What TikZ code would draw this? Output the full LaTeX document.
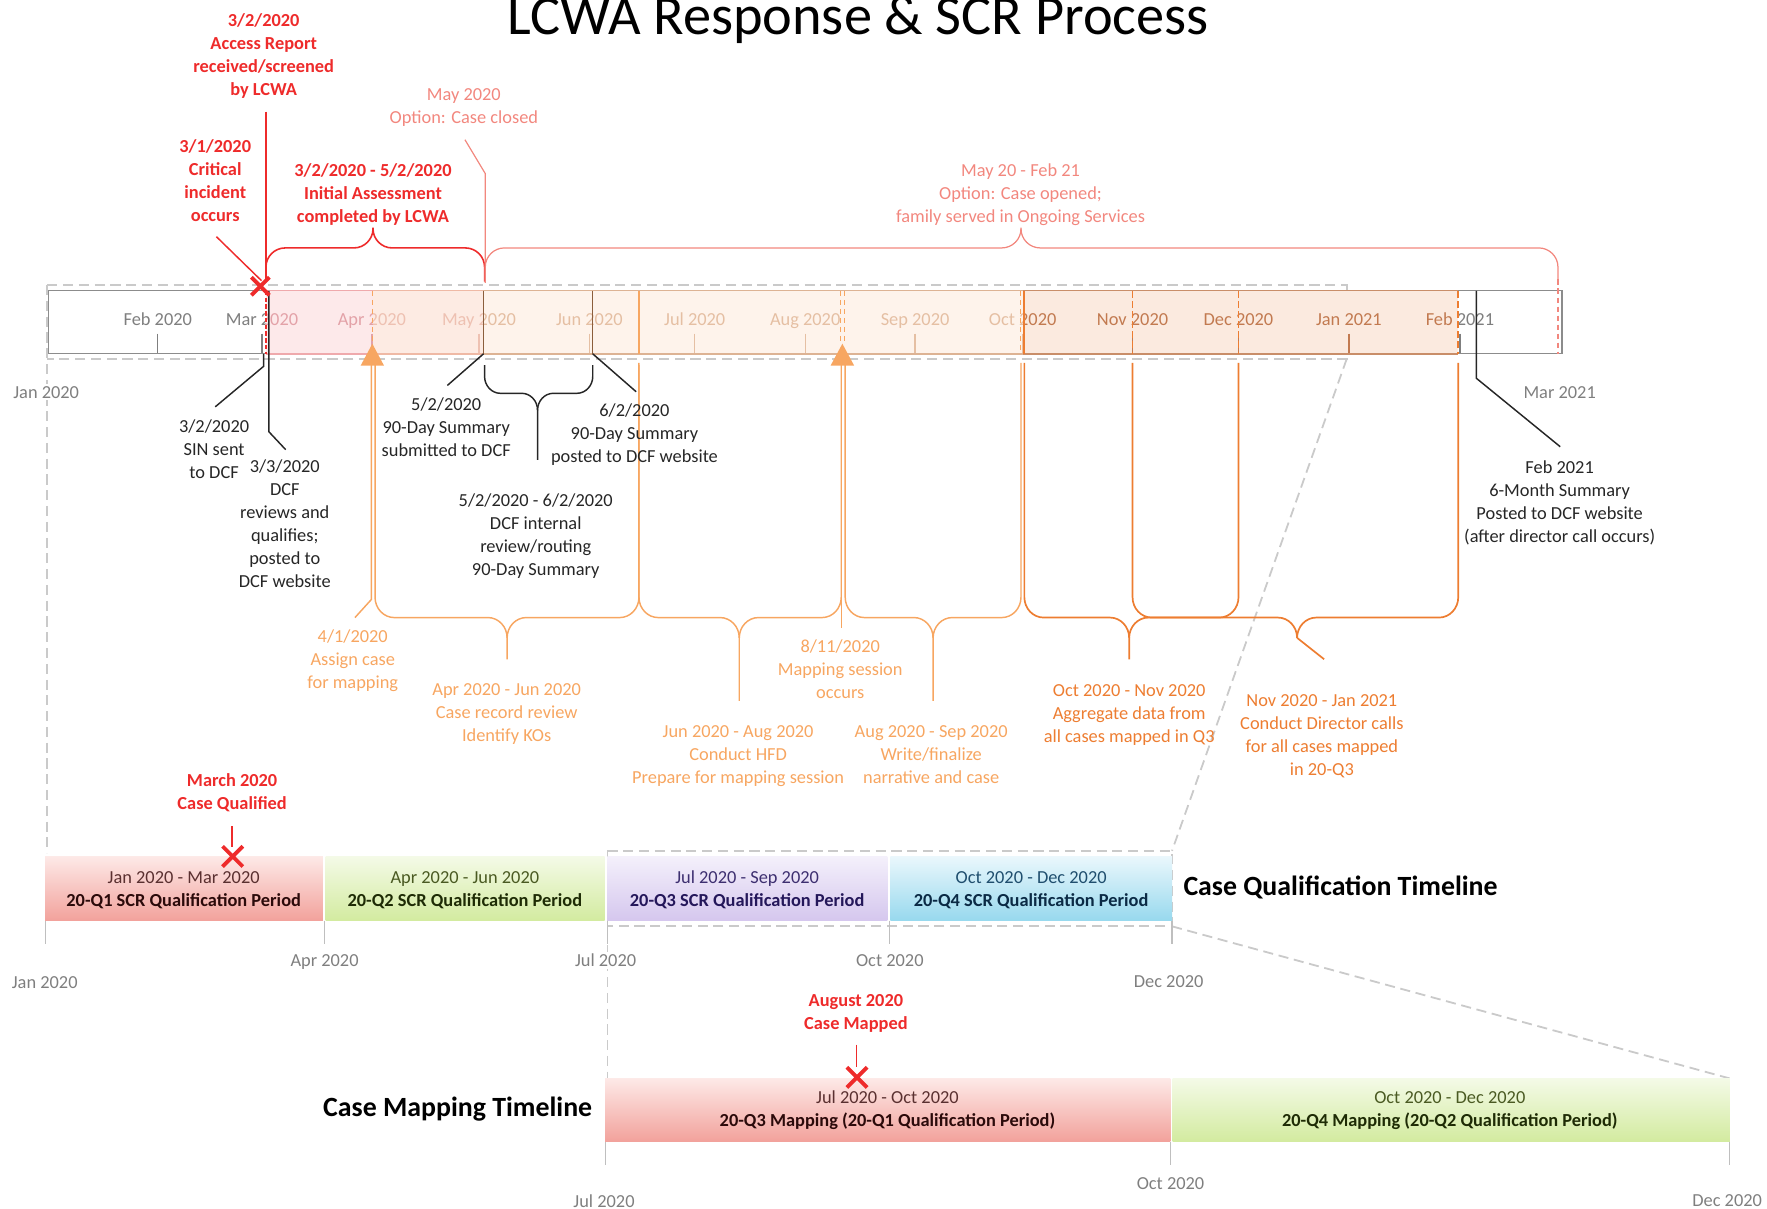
\documentclass[tikz,border=0pt]{standalone}
\usepackage{fontspec}
\setmainfont{Carlito}
% palette
\definecolor{axisgray}{HTML}{7F7F7F}
\definecolor{dashgray}{HTML}{CACACA}
\definecolor{tickgray}{HTML}{BFBFBF}
\definecolor{barline}{HTML}{8C8C8C}
\definecolor{redS}{HTML}{EE2B2B}
\definecolor{redL}{HTML}{F2877E}
\definecolor{orgL}{HTML}{F7A661}
\definecolor{orgD}{HTML}{ED7D31}
\definecolor{ink}{HTML}{262626}
\definecolor{brownln}{HTML}{8B5E3C}
\definecolor{segA}{HTML}{FDE9EA}\definecolor{segAtxt}{HTML}{E3A2A8}\definecolor{segAbd}{HTML}{EFA9AC}
\definecolor{segB}{HTML}{FDEBE3}\definecolor{segBtxt}{HTML}{EEC1B2}\definecolor{segBbd}{HTML}{EFB9A5}
\definecolor{segC}{HTML}{FEF3EB}\definecolor{segCtxt}{HTML}{E5BFA3}\definecolor{segCbd}{HTML}{DDB394}
\definecolor{segD}{HTML}{FBEADF}\definecolor{segDtxt}{HTML}{C27A50}\definecolor{segDbd}{HTML}{C98E69}
% quarter blocks
\definecolor{qRtop}{HTML}{FDE9E7}\definecolor{qRbot}{HTML}{F2A29C}
\definecolor{qGtop}{HTML}{F4FAE7}\definecolor{qGbot}{HTML}{D3EBA0}
\definecolor{qPtop}{HTML}{F4F0FB}\definecolor{qPbot}{HTML}{D5C7EE}
\definecolor{qBtop}{HTML}{EAF7FC}\definecolor{qBbot}{HTML}{98D9EE}
\definecolor{qRdate}{HTML}{5A3030}\definecolor{qRname}{HTML}{2B0A0A}
\definecolor{qGdate}{HTML}{4A5A22}\definecolor{qGname}{HTML}{1E2B05}
\definecolor{qPdate}{HTML}{3D2F70}\definecolor{qPname}{HTML}{24175A}
\definecolor{qBdate}{HTML}{1F4E6E}\definecolor{qBname}{HTML}{0B2A45}

\newcommand{\lblfont}{\fontsize{16.3}{20.4}\selectfont}
\newcommand{\tlheadfont}{\fontsize{24.7}{30}\selectfont\bfseries}

% curly brace: style, left x, right x, tip x, arm start y, bar y, tip end y, vertical radius (signed), horizontal radius
\newcommand{\tlbrace}[9]{%
  \draw[#1] (#2,#5) -- (#2,{#6-(#8)})
    .. controls (#2,{#6-0.45*(#8)}) and ({#2+0.45*#9},#6) .. ({#2+#9},#6)
    -- ({#4-#9},#6)
    .. controls ({#4-0.45*#9},#6) and (#4,{#6+0.45*(#8)}) .. (#4,{#6+(#8)}) -- (#4,#7);
  \draw[#1] (#3,#5) -- (#3,{#6-(#8)})
    .. controls (#3,{#6-0.45*(#8)}) and ({#3-0.45*#9},#6) .. ({#3-#9},#6)
    -- ({#4+#9},#6)
    .. controls ({#4+0.45*#9},#6) and (#4,{#6+0.45*(#8)}) .. (#4,{#6+(#8)});}
% red cross marker
\newcommand{\redx}[3]{%
  \draw[xm] ({#1-#3},{#2-#3}) -- ({#1+#3},{#2+#3}) ({#1-#3},{#2+#3}) -- ({#1+#3},{#2-#3});}

% multi-line labels are placed by the baseline of their last line
\tikzset{
  lbl/.style={inner sep=0pt, anchor=base, align=center, font=\lblfont},
  month/.style={lbl, text=axisgray},
  monthbg/.style={month, fill=white, inner sep=1.5pt},
  redb/.style={lbl, text=redS, font=\lblfont\bfseries},
  redl/.style={lbl, text=redL},
  blk/.style={lbl, text=ink},
  orgl/.style={lbl, text=orgL},
  orgd/.style={lbl, text=orgD},
  dashln/.style={draw=dashgray, line width=1.6pt, dash pattern=on 9pt off 5pt},
  tickln/.style={draw=tickgray, line width=1pt},
  pointer/.style={draw=ink, line width=1.3pt},
  xm/.style={draw=redS, line width=3.4pt},
  blocktxt/.style={lbl}
}

\begin{document}
\begin{tikzpicture}[x=1pt,y=-1pt]
\useasboundingbox (0,0) rectangle (1568,1072);

% title
\node[anchor=base west, inner sep=0pt, font=\fontsize{50}{56}\selectfont, text=black] (title) at (450,31) {LCWA Response \& SCR Process};

% dashed frames and zoom guides
\draw[dashln] (42,253) -- (1195,253) -- (1195,318.6) -- (42,318.6);
\draw[dashln] (42,253) -- (42,757);
\draw[dashln] (1195,318.6) -- (1040,755);
\draw[dashln] (539,755) -- (1040,755) -- (1040,822) -- (539,822);
\draw[dashln] (539,755) -- (539,957);
\draw[dashln] (1040,822) -- (1535,957);

% main month bar: shaded segments with their ticks and month names
\foreach \xa/\xb/\fc/\tc [count=\s] in {43/236/white/axisgray, 236/331/segA/segAtxt, 331/429/segB/segBtxt, 429/908/segC/segCtxt, 908/1294/segD/segDtxt, 1294/1386/white/axisgray}{
  \fill[\fc] (\xa,258) rectangle (\xb,314);
  \begin{scope}
    \clip (\xa,250) rectangle (\xb,318);
    \foreach \mx/\mt [count=\m] in {140/Feb 2020, 232.5/Mar 2020, 330/Apr 2020, 425/May 2020, 523/Jun 2020, 616.5/Jul 2020, 714.5/Aug 2020, 812/Sep 2020, 907.5/Oct 2020, 1005/Nov 2020, 1099/Dec 2020, 1197/Jan 2021, 1295.5/Feb 2021}{
      \draw[\tc, line width=1.1pt] (\mx,296) -- (\mx,314);
      \node[month, text=\tc] (mon-\s-\m) at (\mx,289.2) {\mt};
    }
  \end{scope}
}
\draw[barline, line width=1.1pt] (43,258) rectangle (1386,314);
\foreach \xa/\xb/\bc in {236/331/segAbd, 331/429/segBbd, 429/908/segCbd, 908/1294/segDbd}{
  \draw[\bc, line width=1.3pt] (\xa,258) -- (\xb,258) (\xa,314) -- (\xb,314);
}
\node[monthbg] (jan20) at (41,353.2) {Jan 2020};
\node[month] (mar21) at (1384,353.2) {Mar 2021};

% markers inside the bar
\draw[redS, line width=1.2pt, dash pattern=on 4pt off 2pt] (236,258) -- (236,314);
\draw[orgL, line width=1.1pt, dash pattern=on 5pt off 3pt] (330.4,258) -- (330.4,305);
\draw[brownln, line width=1.3pt] (429,258) -- (429,314) (526,258) -- (526,314);
\draw[orgL, line width=1.1pt] (567,258) -- (567,314);
\draw[orgL, line width=1.1pt, dash pattern=on 5pt off 3pt] (745.5,258) -- (745.5,305) (749.5,258) -- (749.5,305);
\draw[orgL, line width=1.1pt, dash pattern=on 5pt off 3pt] (905.5,258) -- (905.5,314);
\draw[orgD, line width=1.4pt] (908.5,258) -- (908.5,314);
\draw[orgD, line width=1.4pt, dash pattern=on 6pt off 3pt] (1005,258) -- (1005,314) (1099,258) -- (1099,314) (1294,258) -- (1294,314);
\draw[redL, line width=1.1pt, dash pattern=on 5pt off 3pt] (1382.5,248) -- (1382.5,314);

% black call-outs
\draw[pointer] (238.5,258) -- (238.5,383) -- (253.5,399);
\draw[pointer] (234,314) -- (234,325) -- (191,361);
\draw[pointer] (429,314) -- (397,342);
\draw[pointer] (526,314) -- (564.5,347.6);
\draw[pointer] (1310,258) -- (1310,335.6) -- (1384.5,396.4);
\tlbrace{ink, line width=1.3pt}{430}{526}{477}{324}{349}{408}{15}{14}

% red call-outs above the bar
\draw[redS, line width=1.3pt] (236,99) -- (236,250);
\draw[redS, line width=1.3pt] (192,210) -- (232,249);
\tlbrace{redS, line width=1.4pt}{236}{430}{331}{250}{220}{202}{-17}{17}
\draw[redL, line width=1.1pt] (412.6,124) -- (430.6,154) -- (430.6,251);
\tlbrace{redL, line width=1.1pt}{430.6}{1382.5}{906}{250}{220}{202}{-17}{17}
\redx{231}{254}{8}

% orange mapping phases below the bar
\draw[orgL, line width=1.3pt] (329.5,324) -- (329.5,532) -- (315,548);
\fill[orgL] (330.4,305) -- (320,324.5) -- (340.8,324.5) -- cycle;
\tlbrace{orgL, line width=1.3pt}{332.8}{567}{450}{324}{548}{585}{18}{17}
\tlbrace{orgL, line width=1.3pt}{567}{746.5}{656}{322}{548}{622}{18}{17}
\draw[orgL, line width=1.3pt] (746.5,324) -- (746.5,557);
\fill[orgL] (747.5,305) -- (737,324.5) -- (758,324.5) -- cycle;
\tlbrace{orgL, line width=1.3pt}{750}{906}{828}{322}{548}{622}{18}{17}
\tlbrace{orgD, line width=1.5pt}{909}{1099}{1002}{322}{548}{585}{18}{17}
\tlbrace{orgD, line width=1.5pt}{1005}{1294}{1151}{322}{548}{566}{18}{17}
\draw[orgD, line width=1.5pt] (1151,566) -- (1175,585);

% labels
\node[redb] (accrep) at (234,84.7) {3/2/2020\\Access Report\\received/screened\\by LCWA};
\node[redb] (incident) at (191,196.7) {3/1/2020\\Critical\\incident\\occurs};
\node[redb] (initass) at (331,197.5) {3/2/2020 - 5/2/2020\\Initial Assessment\\completed by LCWA};
\node[redl] (closed) at (411.6,109.4) {May 2020\\Option: Case closed};
\node[redl] (opened) at (905.6,197.5) {May 20 - Feb 21\\Option: Case opened;\\family served in Ongoing Services};
\node[blk] (sin) at (190,424.6) {3/2/2020\\SIN sent\\to DCF};
\node[blk] (qualif) at (252.7,521.5) {3/3/2020\\DCF\\reviews and\\qualifies;\\posted to\\DCF website};
\node[blk] (sub90) at (396,405.5) {5/2/2020\\90-Day Summary\\submitted to DCF};
\node[blk] (post90) at (563,410.4) {6/2/2020\\90-Day Summary\\posted to DCF website};
\node[blk] (route90) at (475.4,510.4) {5/2/2020 - 6/2/2020\\DCF internal\\review/routing\\90-Day Summary};
\node[blk] (sixmo) at (1384,481.7) {Feb 2021\\6-Month Summary\\Posted to DCF website\\(after director call occurs)};
\node[orgl] (assign) at (313,610.8) {4/1/2020\\Assign case\\for mapping};
\node[orgl] (review) at (449.6,658) {Apr 2020 - Jun 2020\\Case record review\\Identify KOs};
\node[orgl] (hfd) at (655,695.5) {Jun 2020 - Aug 2020\\Conduct HFD\\Prepare for mapping session};
\node[orgl] (session) at (745.6,619.8) {8/11/2020\\Mapping session\\occurs};
\node[orgl] (narr) at (826.3,695.5) {Aug 2020 - Sep 2020\\Write/finalize\\narrative and case};
\node[orgd] (aggr) at (1002,658.5) {Oct 2020 - Nov 2020\\Aggregate data from\\all cases mapped in Q3};
\node[orgd] (calls) at (1173,688.5) {Nov 2020 - Jan 2021\\Conduct Director calls\\for all cases mapped\\in 20-Q3};

% case qualification timeline
\shade[top color=qRtop, bottom color=qRbot] (40,760) rectangle (286.5,816.5);
\shade[top color=qGtop, bottom color=qGbot] (289,760) rectangle (536.5,816.5);
\shade[top color=qPtop, bottom color=qPbot] (539,760) rectangle (787.5,816.5);
\shade[top color=qBtop, bottom color=qBbot] (790,760) rectangle (1040,816.5);
\node[blocktxt, text=qRdate] (q1) at (163,804.4) {Jan 2020 - Mar 2020\\\textcolor{qRname}{\bfseries 20-Q1 SCR Qualification Period}};
\node[blocktxt, text=qGdate] (q2) at (412.5,804.4) {Apr 2020 - Jun 2020\\\textcolor{qGname}{\bfseries 20-Q2 SCR Qualification Period}};
\node[blocktxt, text=qPdate] (q3) at (663,804.4) {Jul 2020 - Sep 2020\\\textcolor{qPname}{\bfseries 20-Q3 SCR Qualification Period}};
\node[blocktxt, text=qBdate] (q4) at (915,804.4) {Oct 2020 - Dec 2020\\\textcolor{qBname}{\bfseries 20-Q4 SCR Qualification Period}};
\draw[tickln] (40,817) -- (40,838) (288,817) -- (288,838) (539,817) -- (539,838) (789.5,817) -- (789.5,838) (1040,817) -- (1040,838);
\node[month] (qjan) at (39.7,877) {Jan 2020};
\node[month] (qapr) at (288,858) {Apr 2020};
\node[monthbg] (qjul) at (537.4,858) {Jul 2020};
\node[month] (qoct) at (789.6,858) {Oct 2020};
\node[month] (qdec) at (1037,876) {Dec 2020};
\node[anchor=base west, inner sep=0pt, font=\tlheadfont, text=black] (qualhead) at (1050,795) {Case Qualification Timeline};
\node[redb] (qualified) at (206,718.6) {March 2020\\Case Qualified};
\draw[redS, line width=1.2pt] (206,733) -- (206,752);
\redx{206.5}{760}{9}

% case mapping timeline
\shade[top color=qRtop, bottom color=qRbot] (537,957) rectangle (1038.5,1012.5);
\shade[top color=qGtop, bottom color=qGbot] (1040.5,957) rectangle (1535,1012.5);
\node[blocktxt, text=qRdate] (m3) at (787.5,999.6) {Jul 2020 - Oct 2020\\\textcolor{qRname}{\bfseries 20-Q3 Mapping (20-Q1 Qualification Period)}};
\node[blocktxt, text=qGdate] (m4) at (1286.5,999.6) {Oct 2020 - Dec 2020\\\textcolor{qGname}{\bfseries 20-Q4 Mapping (20-Q2 Qualification Period)}};
\draw[tickln] (537,1013) -- (537,1034) (1039,1013) -- (1039,1034) (1535,1013) -- (1535,1034);
\node[month] (mjul) at (536,1071.5) {Jul 2020};
\node[month] (moct) at (1038.7,1055.3) {Oct 2020};
\node[month] (mdec) at (1532.6,1070.7) {Dec 2020};
\node[anchor=base east, inner sep=0pt, font=\tlheadfont, text=black] (maphead) at (525.7,990.3) {Case Mapping Timeline};
\node[redb] (mapped) at (759.5,913.6) {August 2020\\Case Mapped};
\draw[redS, line width=1.2pt] (760,927) -- (760,947);
\redx{760.5}{956}{9}
\end{tikzpicture}
\end{document}
